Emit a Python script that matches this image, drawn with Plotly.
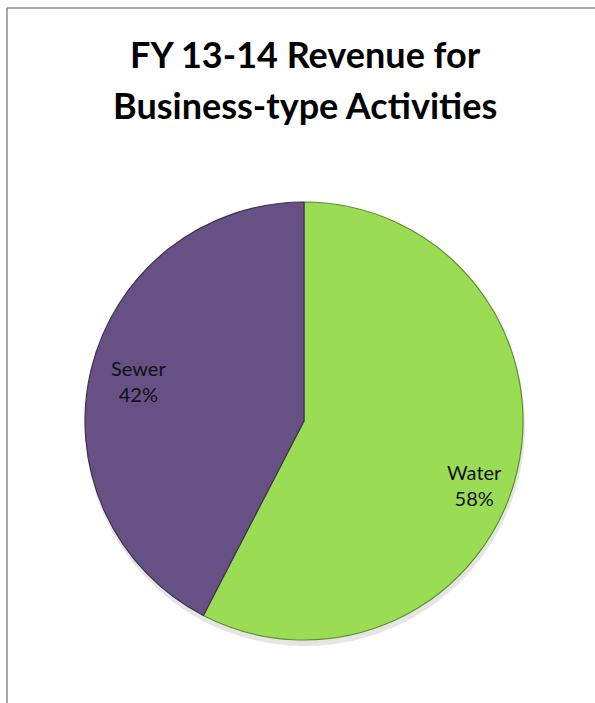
import math
import plotly.graph_objects as go

categories = ["Water", "Sewer"]
values = [57.6, 42.4]
colors = ["#9bdc55", "#675084"]
line_colors = ["#5f8f2c", "#3f2f55"]
title_lines = ["FY 13-14 Revenue for", "Business-type Activities"]

W, H = 595, 703
cx, cy, R = 304, 421, 219  # pie centre / radius in px (from top-left)
# label placement relative to slice mid-angle: (radius fraction, extra degrees)
label_adjust = {"Water": (0.83, 7), "Sewer": (0.78, 0)}

def dom(cx_, cy_, r_):
    return dict(x=[(cx_ - r_) / W, (cx_ + r_) / W], y=[(H - cy_ - r_) / H, (H - cy_ + r_) / H])

fig = go.Figure()
# soft shadow
fig.add_trace(go.Pie(
    labels=categories, values=values, sort=False, direction="clockwise",
    rotation=0, textinfo="none", hoverinfo="skip",
    marker=dict(colors=["rgba(0,0,0,0.10)"] * 2, line=dict(width=0)),
    domain=dom(cx + 1, cy + 5, R + 1), showlegend=False,
))
fig.add_trace(go.Pie(
    labels=categories, values=values, sort=False, direction="clockwise",
    rotation=0, textinfo="none", hoverinfo="label+percent",
    marker=dict(colors=colors, line=dict(color=line_colors, width=1.2)),
    domain=dom(cx, cy, R), showlegend=False,
))

# labels near the slice mid-angle
total = sum(values)
acc = 0
annotations = []
for cat, v in zip(categories, values):
    rf, extra = label_adjust[cat]
    mid = (acc + v / 2) / total * 2 * math.pi + math.radians(extra)
    acc += v
    px = cx + rf * R * math.sin(mid)
    py = cy - rf * R * math.cos(mid)
    annotations.append(dict(
        x=px / W, y=1 - py / H, xref="paper", yref="paper",
        text=f"{cat}<br>{round(v / total * 100)}%", showarrow=False,
        font=dict(family="Lato", size=20, color="#111111"),
        xanchor="center", yanchor="middle", align="center",
    ))

for i, t in enumerate(title_lines):
    annotations.append(dict(
        x=305 / W, y=1 - (54 + 51 * i) / H, xref="paper", yref="paper",
        text=f"<b>{t}</b>", showarrow=False,
        font=dict(family="Lato", size=36, color="#000000"),
        xanchor="center", yanchor="middle",
    ))

fig.update_layout(
    width=W, height=H, margin=dict(l=0, r=0, t=0, b=0),
    paper_bgcolor="white", plot_bgcolor="white",
    annotations=annotations,
    shapes=[
        dict(type="line", xref="paper", yref="paper", x0=7 / W, x1=1, y0=1 - 8 / H, y1=1 - 8 / H,
             line=dict(color="#8a8a8a", width=1.5)),
        dict(type="line", xref="paper", yref="paper", x0=7 / W, x1=7 / W, y0=0, y1=1 - 8 / H,
             line=dict(color="#8a8a8a", width=1.5)),
    ],
)

fig.write_html("out.html", config={"displayModeBar": False},
               post_script="document.body.style.margin='0';document.body.style.overflow='hidden';")
